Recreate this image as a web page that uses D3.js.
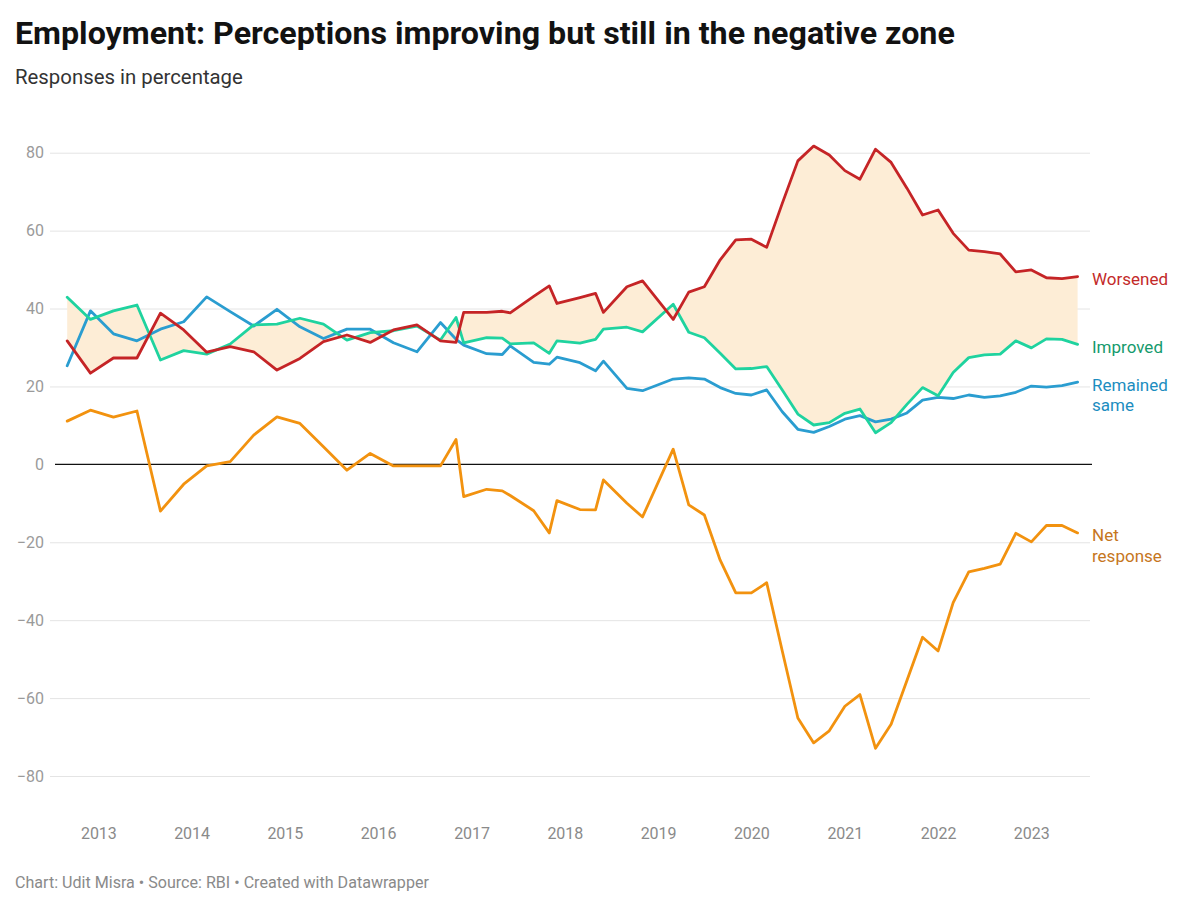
<!DOCTYPE html>
<html>
<head>
<meta charset="utf-8">
<script src="https://cdn.jsdelivr.net/npm/d3@7"></script>
<style>
  html, body { margin: 0; padding: 0; background: #fff; }
  svg { display: block; font-family: Roboto, "Noto Sans", sans-serif; }
</style>
</head>
<body>
<svg id="chart" width="1200" height="907"></svg>
<script>
// ---- data ----
const dates = ["2012-09","2012-12","2013-03","2013-06","2013-09","2013-12","2014-03","2014-06","2014-09","2014-12",
  "2015-03","2015-06","2015-09","2015-12","2016-03","2016-06","2016-09","2016-11","2016-12","2017-03",
  "2017-05","2017-06","2017-09","2017-11","2017-12","2018-03","2018-05","2018-06","2018-09","2018-11",
  "2019-03","2019-05","2019-07","2019-09","2019-11","2020-01","2020-03","2020-05","2020-07","2020-09",
  "2020-11","2021-01","2021-03","2021-05","2021-07","2021-09","2021-11","2022-01","2022-03","2022-05",
  "2022-07","2022-09","2022-11","2023-01","2023-03","2023-05","2023-07"];
const worsened = [31.7,23.4,27.3,27.3,38.8,34.5,28.8,30.2,28.9,24.2,
  27.2,31.5,33.2,31.3,34.5,35.8,31.7,31.3,39.0,39.0,
  39.3,38.9,43.1,45.8,41.3,42.8,43.9,39.0,45.6,47.1,
  37.2,44.2,45.6,52.5,57.6,57.8,55.7,67.0,77.9,81.7,
  79.4,75.4,73.2,80.9,77.5,70.9,64.0,65.3,59.3,55.0,
  54.6,54.0,49.4,49.9,47.9,47.7,48.2];
const improved = [42.9,37.2,39.4,40.9,26.8,29.2,28.3,30.9,35.8,36.0,
  37.5,36.0,31.9,33.8,34.3,35.5,31.9,37.7,31.2,32.5,
  32.4,30.9,31.2,28.5,31.7,31.1,32.1,34.7,35.2,34.0,
  41.1,33.9,32.5,28.5,24.5,24.6,25.1,19.1,12.9,10.1,
  10.7,13.1,14.2,8.1,10.7,15.4,19.7,17.6,23.6,27.4,
  28.1,28.3,31.7,29.9,32.2,32.1,30.8];
const remainedSame = [25.3,39.4,33.5,31.7,34.7,36.6,43.0,39.2,35.5,39.8,
  35.3,32.3,34.7,34.7,31.2,28.9,36.4,32.1,30.6,28.4,
  28.2,30.4,26.2,25.7,27.5,26.1,24.0,26.5,19.5,18.9,
  21.9,22.2,21.9,19.7,18.2,17.8,19.1,13.5,9.0,8.2,
  9.7,11.6,12.5,10.9,11.6,13.2,16.5,17.2,16.9,17.8,
  17.2,17.6,18.5,20.1,19.8,20.2,21.1];
const netResponse = [11.1,13.9,12.1,13.7,-12.0,-5.1,-0.4,0.7,7.5,12.2,
  10.5,4.5,-1.5,2.8,-0.4,-0.4,-0.4,6.4,-8.3,-6.4,
  -6.8,-8.0,-11.9,-17.6,-9.3,-11.6,-11.7,-4.0,-10.0,-13.5,
  3.9,-10.4,-13.0,-24.6,-33.0,-33.0,-30.4,-47.9,-65.1,-71.5,
  -68.4,-62.1,-59.1,-72.9,-66.7,-55.5,-44.4,-47.9,-35.5,-27.6,
  -26.7,-25.6,-17.7,-19.9,-15.7,-15.7,-17.6];
const yTicks = [-80,-60,-40,-20,0,20,40,60,80];
const xTickYears = ["2013","2014","2015","2016","2017","2018","2019","2020","2021","2022","2023"];

const seriesNames = ["Remained same","Improved","Worsened","Net response"];
const seriesLabelLines = [["Remained","same"],["Improved"],["Worsened"],["Net","response"]];
const lineColors = ["#2a9dd0","#1fd39f","#c52426","#f2920f"];
const labelColors = ["#1c8dc0","#159a6c","#c32a2a","#c6761d"];

// ---- build ----
const parse = d3.timeParse("%Y-%m");
const parseYear = d3.timeParse("%Y");
const rows = dates.map((d,i)=>({date: parse(d), w: worsened[i], im: improved[i], r: remainedSame[i], n: netResponse[i]}));
const seriesVals = [remainedSame, improved, worsened, netResponse];

const svg = d3.select("#chart");
const plotLeft = 50, plotRight = 1090;

const x = d3.scaleTime().domain(d3.extent(rows, d=>d.date)).range([67.2, 1077.6]);
const y = d3.scaleLinear().domain([-80, 80]).range([776, 152.7]);

function fitText(sel, target){
  const w = sel.node().getComputedTextLength();
  const fs = parseFloat(sel.attr("font-size"));
  sel.attr("font-size", (fs*target/w).toFixed(2));
}
const title = svg.append("text").attr("x",15).attr("y",44).attr("font-size",29).attr("font-weight",700)
  .attr("fill","#121212").text("Employment: Perceptions improving but still in the negative zone");
fitText(title, 940);
const sub = svg.append("text").attr("x",15).attr("y",84).attr("font-size",19).attr("fill","#333")
  .text("Responses in percentage");
fitText(sub, 228);
const foot = svg.append("text").attr("x",15).attr("y",888).attr("font-size",14.5).attr("fill","#8a8a8a")
  .text("Chart: Udit Misra • Source: RBI • Created with Datawrapper");
fitText(foot, 414);

// y grid + labels
const yAxis = d3.axisLeft(y).tickValues(yTicks).tickSize(-(plotRight-plotLeft)).tickPadding(6)
  .tickFormat(d => d < 0 ? "\u2212" + Math.abs(d) : String(d));
const gy = svg.append("g").attr("transform",`translate(${plotLeft},0)`).call(yAxis);
gy.select(".domain").remove();
gy.selectAll(".tick line").attr("stroke", d => d===0 ? "none" : "#e4e4e4").attr("stroke-width",1);
gy.selectAll(".tick text").attr("fill","#9a9a9a").attr("font-size",16).attr("font-family","Roboto, sans-serif");

// x axis labels
const xAxis = d3.axisBottom(x).tickValues(xTickYears.map(parseYear)).tickSize(0).tickPadding(12)
  .tickFormat(d3.timeFormat("%Y"));
const gx = svg.append("g").attr("transform","translate(0,816)").call(xAxis);
gx.select(".domain").remove();
gx.selectAll(".tick text").attr("fill","#8a8a8a").attr("font-size",16).attr("font-family","Roboto, sans-serif");

// area between worsened and improved
const area = d3.area().x(d=>x(d.date)).y0(d=>y(d.im)).y1(d=>y(d.w));
svg.append("path").datum(rows).attr("d",area).attr("fill","#fdedd6");

// zero line
svg.append("line").attr("x1",55).attr("x2",plotRight+2).attr("y1",y(0)).attr("y2",y(0))
  .attr("stroke","#111").attr("stroke-width",1.2);

// lines
seriesVals.forEach((vals, k) => {
  const line = d3.line().x((d,i)=>x(rows[i].date)).y(d=>y(d));
  svg.append("path").datum(vals).attr("d", line).attr("fill","none")
    .attr("stroke", lineColors[k]).attr("stroke-width",2.8)
    .attr("stroke-linejoin","round").attr("stroke-linecap","round");
});

// labels
seriesVals.forEach((vals, k) => {
  const last = vals[vals.length-1];
  const t = svg.append("text").attr("x",1092).attr("y", y(last)+8.5)
    .attr("font-size",17).attr("fill",labelColors[k]);
  seriesLabelLines[k].forEach((ln, j) => {
    t.append("tspan").attr("x",1092).attr("dy", j===0 ? 0 : 20.5).text(ln);
  });
});
</script>
</body>
</html>
